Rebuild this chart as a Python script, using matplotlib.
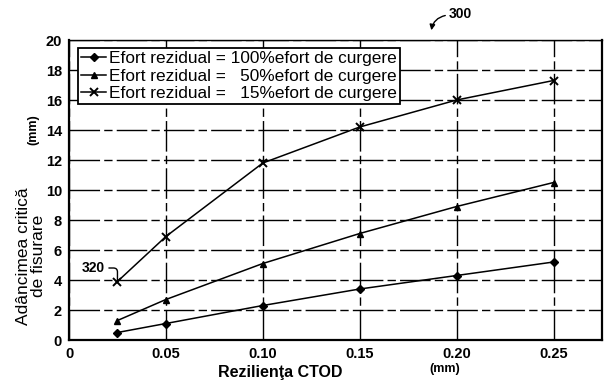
import matplotlib.pyplot as plt
from matplotlib.patches import FancyArrowPatch

plt.rcParams["font.family"] = ["Liberation Sans", "DejaVu Sans"]

ctod = [0.025, 0.05, 0.10, 0.15, 0.20, 0.25]
depth_100 = [0.5, 1.1, 2.3, 3.4, 4.3, 5.2]
depth_50 = [1.3, 2.7, 5.1, 7.1, 8.9, 10.5]
depth_15 = [3.9, 6.9, 11.8, 14.2, 16.0, 17.3]

series_labels = [
    "Efort rezidual = 100%efort de curgere",
    "Efort rezidual =   50%efort de curgere",
    "Efort rezidual =   15%efort de curgere",
]
x_ticks = [0, 0.05, 0.10, 0.15, 0.20, 0.25]
x_tick_labels = ["0", "0.05", "0.10", "0.15", "0.20", "0.25"]
y_ticks = list(range(0, 21, 2))

W, H = 605, 380
fig = plt.figure(figsize=(W / 100, H / 100), dpi=100)
ax = fig.add_axes([69 / W, 1 - 340 / H, (602 - 69) / W, (340 - 40) / H])

ax.plot(ctod, depth_100, color="black", lw=1.1, marker="D", ms=4.5,
        label=series_labels[0])
ax.plot(ctod, depth_50, color="black", lw=1.1, marker="^", ms=5,
        label=series_labels[1])
ax.plot(ctod, depth_15, color="black", lw=1.1, marker="x", ms=6, mew=1.4,
        label=series_labels[2])

ax.set_xlim(0, 0.275)
ax.set_ylim(0, 20)
ax.set_xticks(x_ticks)
ax.set_xticklabels(x_tick_labels)
ax.set_yticks(y_ticks)
ax.grid(True, color="black", lw=1.0, linestyle=(0, (22, 3, 6, 3)))
ax.tick_params(length=0, labelsize=10.5, pad=5)
for lab in ax.get_xticklabels() + ax.get_yticklabels():
    lab.set_fontweight("bold")
for side in ax.spines.values():
    side.set_linewidth(1.6)
ax.spines["top"].set_linewidth(1.0)

leg = ax.legend(loc="upper left", bbox_to_anchor=(0.017, 0.972), fontsize=12.4,
                frameon=True, fancybox=False, edgecolor="black",
                borderpad=0.15, labelspacing=0.15, handlelength=1.5,
                handletextpad=0.15, borderaxespad=0)
leg.get_frame().set_linewidth(1.3)
leg.get_frame().set_alpha(1)

# axis titles placed by hand, split around the units
fig.text(31 / W, 1 - 256 / H, "Adâncimea critică\nde fisurare", rotation=90,
         ha="center", va="center", fontsize=12.5, linespacing=1.0)
fig.text(33 / W, 1 - 130 / H, "(mm)", rotation=90, ha="center", va="center",
         fontsize=9, fontweight="bold")
fig.text(280 / W, 1 - 372 / H, "Rezilienţa CTOD", ha="center", va="center",
         fontsize=11.5, fontweight="bold")
fig.text(445 / W, 1 - 369 / H, "(mm)", ha="center", va="center",
         fontsize=9, fontweight="bold")

ax.annotate("320", xy=(ctod[0], depth_15[0]), xytext=(0.0065, 4.8),
            fontsize=10, fontweight="bold", ha="left", va="center",
            arrowprops=dict(arrowstyle="-", color="black", lw=1.0,
                            shrinkA=1, shrinkB=0,
                            connectionstyle="angle,angleA=0,angleB=90,rad=4"))
fig.text(449 / W, 1 - 14 / H, "300", ha="left", va="center",
         fontsize=10, fontweight="bold")
fig.add_artist(FancyArrowPatch(
    (448 / W, 1 - 15 / H), (431 / W, 1 - 33 / H),
    transform=fig.transFigure, arrowstyle="-|>", mutation_scale=8,
    connectionstyle="arc3,rad=0.4", color="black", lw=1.0))

fig.savefig("out.png", dpi=100)
